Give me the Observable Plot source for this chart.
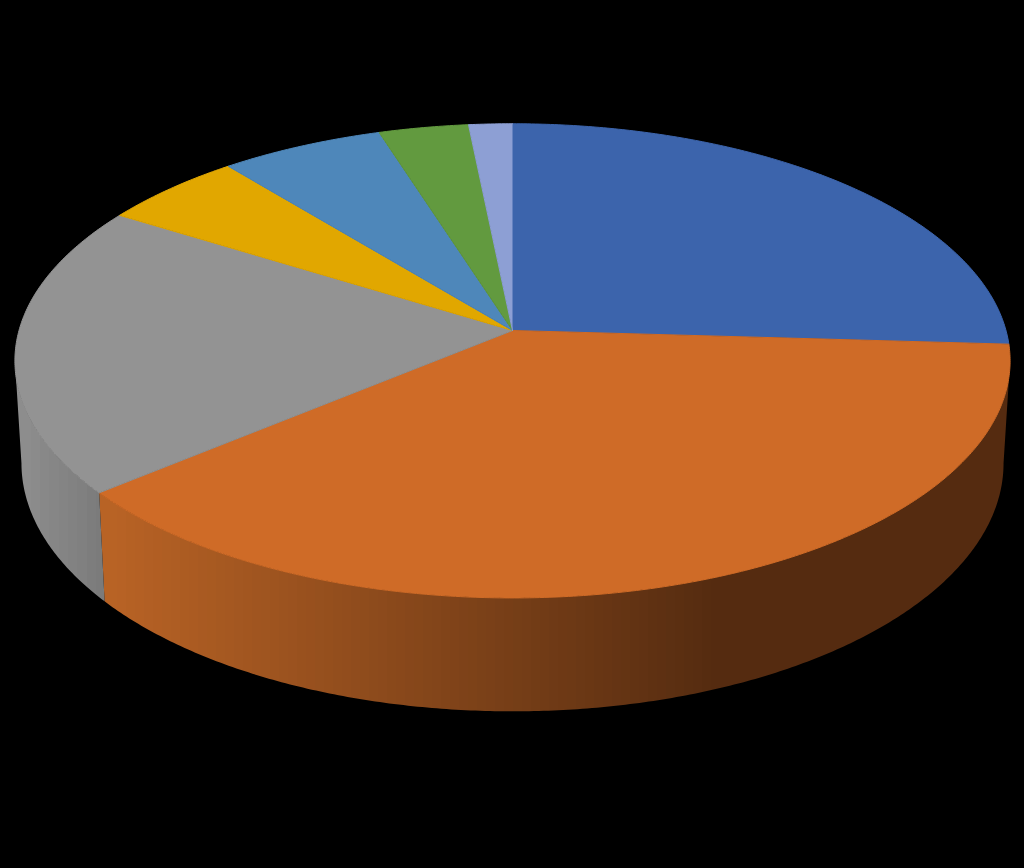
<!DOCTYPE html>
<html>
<head>
<meta charset="utf-8">
<style>html,body{margin:0;padding:0;background:#000;overflow:hidden}svg{display:block}</style>
<script src="https://cdn.jsdelivr.net/npm/d3@7"></script>
<script src="https://cdn.jsdelivr.net/npm/@observablehq/plot@0.6"></script>
</head>
<body>
<div id="chart"></div>
<script>
const categories = ["A", "B", "C", "D", "E", "F", "G"];
const shares = [25.9, 38.0, 19.85, 5.25, 6.0, 3.3, 1.6];
const topColors = ["#3c64ac", "#cf6b27", "#939393", "#e1a700", "#4e87ba", "#629a3f", "#8d9fd4"];
// Wall shading: colour at the left and right ends of each shade ramp, in chart x units
const wallCategories = ["B", "C"];
const wallLeftColors = ["#b96325", "#8e8e8e"];
const wallRightColors = ["#542b10", "#7a7a7a"];
const wallLeftX = [107, 21];
const wallRightX = [720, 105];

// Perspective of the disc: top face and bottom face
const topFace = {cx: 512, cy: 330, a: 493.5, b: 233.2, k: 0.128};
const baseFace = {cx: 512, cy: 431, a: 487, b: 244, k: 0.128};
const project = (f, deg) => {
  const t = deg * Math.PI / 180, X = Math.sin(t), Z = Math.cos(t), w = 1 + f.k * Z;
  return [f.cx + f.a * X / w, f.cy - f.b * Z / w];
};
// The wall is visible between the two silhouette tangents
const tangent = Math.acos(-topFace.k) * 180 / Math.PI;
const visibleFrom = tangent, visibleTo = 360 - tangent;

const total = d3.sum(shares);
const starts = d3.cumsum([0, ...shares.slice(0, -1)]).map(v => v / total * 360);
const slices = categories.map((c, i) => ({c, from: starts[i], to: starts[i] + shares[i] / total * 360}));

const arc = (from, to) => {
  const n = Math.max(8, Math.ceil((to - from) * 2));
  return d3.range(n + 1).map(i => from + (to - from) * i / n);
};

// Top-face polygons
const topPoints = slices.flatMap(s =>
  [[topFace.cx, topFace.cy], ...arc(s.from, s.to).map(a => project(topFace, a))]
    .map(([x, y]) => ({x, y, c: s.c}))
);

// Side-wall polygons
const wallPoints = slices.flatMap(s => {
  const from = Math.max(s.from, visibleFrom), to = Math.min(s.to, visibleTo);
  if (!wallCategories.includes(s.c) || to <= from) return [];
  const angles = arc(from, to);
  return [...angles.map(a => project(topFace, a)), ...angles.slice().reverse().map(a => project(baseFace, a))]
    .map(([x, y]) => ({x, y, c: s.c}));
});

const bandPx = 9;
const wallDefs = (index, {x}) => {
  const defs = d3.create("svg:defs");
  wallCategories.forEach((c, i) => {
    const x0 = x(wallLeftX[i]), x1 = x(wallRightX[i]);
    const g = defs.append("linearGradient").attr("id", "wall-" + c)
      .attr("gradientUnits", "userSpaceOnUse")
      .attr("x1", x0).attr("x2", x1).attr("y1", 0).attr("y2", 0);
    const bands = Math.max(1, Math.round((x1 - x0) / bandPx));
    const mix = d3.interpolateRgb(wallLeftColors[i], wallRightColors[i]);
    for (let b = 0; b < bands; b++) {
      const col = mix((b + 0.5) / bands);
      g.append("stop").attr("offset", b / bands).attr("stop-color", col);
      g.append("stop").attr("offset", (b + 1) / bands).attr("stop-color", col);
    }
  });
  return defs.node();
};

const chart = Plot.plot({
  width: 1024,
  height: 868,
  margin: 0,
  style: {background: "#000"},
  x: {domain: [0, 1024], range: [0, 1024], axis: null},
  y: {domain: [0, 868], range: [0, 868], axis: null},
  color: {domain: categories, range: topColors, type: "ordinal"},
  marks: [
    wallDefs,
    ...wallCategories.map(c => Plot.line(wallPoints.filter(d => d.c === c), {
      x: "x", y: "y",
      fill: `url(#wall-${c})`,
      stroke: "none"
    })),
    Plot.line(topPoints, {
      x: "x", y: "y", z: "c",
      fill: "c",
      stroke: "c",
      strokeWidth: 1
    })
  ]
});
document.getElementById("chart").appendChild(chart);
</script>
</body>
</html>
